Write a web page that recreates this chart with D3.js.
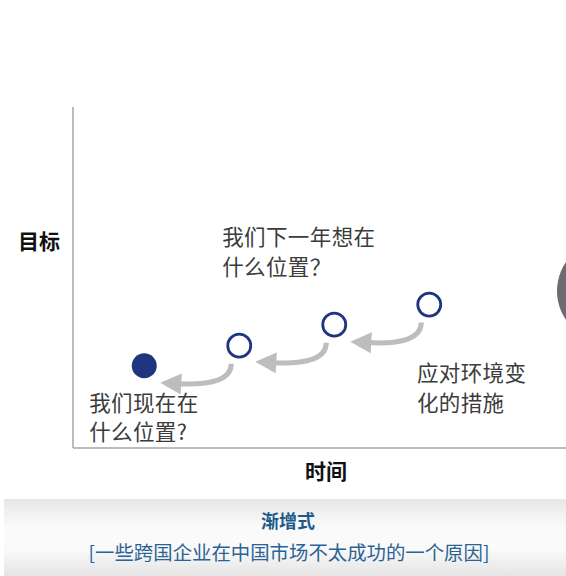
<!DOCTYPE html>
<html><head><meta charset="utf-8">
<script src="https://cdn.jsdelivr.net/npm/d3@7"></script>
<style>html,body{margin:0;padding:0;background:#fff;}svg{display:block;}</style>
</head><body>
<svg id="c" width="566" height="576"></svg>
<script>
// data
const steps = ["现在", "步骤1", "步骤2", "步骤3"];
const timeValues = [0.75, 1.75, 2.75, 3.75];
const targetValues = [4.1, 5.1, 6.15, 7.15];
const filled = [true, false, false, false];
const axisLabels = {x: "时间", y: "目标"};
const title = "渐增式";
const subtitle = "[一些跨国企业在中国市场不太成功的一个原因]";
const notes = [
  {lines: ["我们下一年想在", "什么位置？"], t: 1.57, v: 10.1},
  {lines: ["我们现在在", "什么位置?"], t: 0.17, v: 1.85},
  {lines: ["应对环境变", "化的措施"], t: 3.62, v: 3.32}
];

const svg = d3.select("#c");
const font = "'Noto Sans CJK SC','Noto Sans',sans-serif";
const x = d3.scaleLinear().domain([0, 5.2]).range([73, 567]);
const y = d3.scaleLinear().domain([0, 17]).range([448, 107]);

// right decoration circle
svg.append("circle").attr("cx", 608).attr("cy", 291).attr("r", 51).attr("fill", "#6b6b70");

// axes
svg.append("line").attr("x1", x(0)).attr("x2", x(0)).attr("y1", y(17)).attr("y2", y(0))
  .attr("stroke", "#a6a6a6").attr("stroke-width", 1.5);
svg.append("line").attr("x1", x(0)).attr("x2", 566).attr("y1", y(0)).attr("y2", y(0))
  .attr("stroke", "#a6a6a6").attr("stroke-width", 1.5);

svg.append("text").text(axisLabels.y).attr("x", 39).attr("y", 249)
  .attr("text-anchor", "middle").attr("font-family", font).attr("font-weight", "bold")
  .attr("font-size", 21).attr("fill", "#111");
svg.append("text").text(axisLabels.x).attr("x", 326).attr("y", 479)
  .attr("text-anchor", "middle").attr("font-family", font).attr("font-weight", "bold")
  .attr("font-size", 21).attr("fill", "#111");

// arrows (from each later point back to previous)
const arrowG = svg.append("g");
for (let i = 1; i < steps.length; i++) {
  const cx = x(timeValues[i]), cy = y(targetValues[i]);
  const sx = cx - 8, sy = cy + 18;
  const ex = cx - 62, ey = cy + 38;
  const qx = cx - 8, qy = cy + 41;
  arrowG.append("path")
    .attr("d", `M${sx},${sy} Q${qx},${qy} ${ex},${ey}`)
    .attr("fill", "none").attr("stroke", "#bdbdbd").attr("stroke-width", 5);
  // arrowhead
  const ang = Math.atan2(ey - qy, ex - qx);
  const L = 21, W = 10.5;
  const tx = ex + Math.cos(ang) * (L - 4), ty = ey + Math.sin(ang) * (L - 4);
  const bx = tx - Math.cos(ang) * L, by = ty - Math.sin(ang) * L;
  const px = -Math.sin(ang), py = Math.cos(ang);
  arrowG.append("path")
    .attr("d", `M${tx},${ty} L${bx + px * W},${by + py * W} L${bx - px * W},${by - py * W} Z`)
    .attr("fill", "#bdbdbd");
}

// points
svg.selectAll("circle.pt").data(steps).join("circle").attr("class", "pt")
  .attr("cx", (d, i) => x(timeValues[i])).attr("cy", (d, i) => y(targetValues[i]))
  .attr("r", (d, i) => filled[i] ? 12.5 : 11.5)
  .attr("fill", (d, i) => filled[i] ? "#1f3580" : "#fff")
  .attr("stroke", "#1f3580").attr("stroke-width", (d, i) => filled[i] ? 0 : 2.8);

// notes
notes.forEach(n => {
  const t = svg.append("text").attr("font-family", font).attr("font-size", 21.5)
    .attr("letter-spacing", 0.4)
    .attr("fill", "#3c3c3c").attr("x", x(n.t)).attr("y", y(n.v));
  n.lines.forEach((l, i) => t.append("tspan").attr("x", x(n.t)).attr("dy", i ? 29.5 : 0).text(l));
});

// banner
const defs = svg.append("defs");
const g = defs.append("linearGradient").attr("id", "bg").attr("x1", 0).attr("x2", 0).attr("y1", 0).attr("y2", 1);
g.append("stop").attr("offset", "0%").attr("stop-color", "#e6e6e6");
g.append("stop").attr("offset", "35%").attr("stop-color", "#fafafa");
g.append("stop").attr("offset", "65%").attr("stop-color", "#fafafa");
g.append("stop").attr("offset", "100%").attr("stop-color", "#e4e4e4");
svg.append("rect").attr("x", 4).attr("y", 499).attr("width", 562).attr("height", 77).attr("fill", "url(#bg)");
svg.append("text").text(title).attr("x", 288).attr("y", 528).attr("text-anchor", "middle")
  .attr("font-family", font).attr("font-weight", "bold").attr("font-size", 18).attr("fill", "#1d5a8a");
svg.append("text").text(subtitle).attr("x", 289).attr("y", 560).attr("text-anchor", "middle")
  .attr("font-family", font).attr("font-size", 19.4).attr("fill", "#2b6394");
</script>
</body></html>
